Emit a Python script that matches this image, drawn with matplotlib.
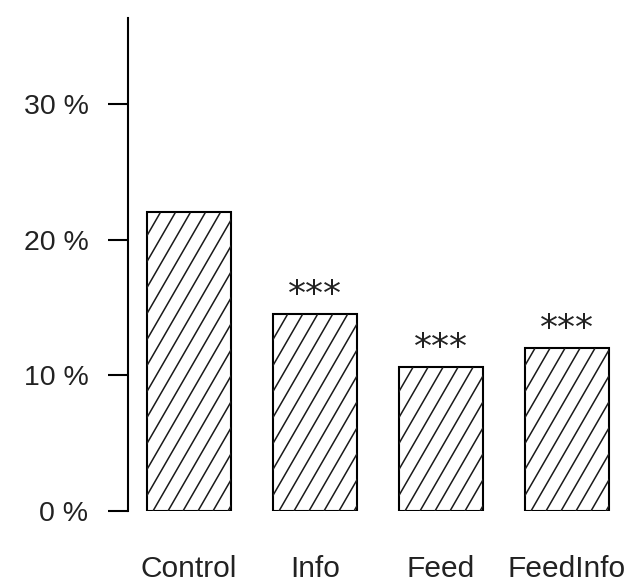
import numpy as np
import matplotlib
matplotlib.use("Agg")
import matplotlib.pyplot as plt
from matplotlib.collections import LineCollection

categories = ["Control", "Info", "Feed", "FeedInfo"]
shares = [22.0, 14.5, 10.6, 12.0]          # percent
significance = ["", "***", "***", "***"]
y_ticks = [0, 10, 20, 30]
y_tick_labels = ["0 %", "10 %", "20 %", "30 %"]

plt.rcParams["font.family"] = ["Liberation Sans", "DejaVu Sans"]
plt.rcParams["text.color"] = "#222222"
plt.rcParams["xtick.labelcolor"] = "#222222"
plt.rcParams["ytick.labelcolor"] = "#222222"

W, H, DPI = 632, 588, 100
fig = plt.figure(figsize=(W / DPI, H / DPI), dpi=DPI)

px_per_pct = 13.57
ytop = 36.3
ax_left, ax_right, ax_bottom = 128, 625, 511
ax = fig.add_axes([ax_left / W, (H - ax_bottom) / H,
                   (ax_right - ax_left) / W, ytop * px_per_pct / H])

step = 126.0
x = np.arange(len(categories))
bar_w = 84 / step
ax.set_xlim(-(189 - ax_left) / step, 3 + (ax_right - 567) / step)
ax.set_ylim(0, ytop)

bars = ax.bar(x, shares, width=bar_w, facecolor="white",
              edgecolor="black", linewidth=1.5, zorder=2)

# diagonal shading lines (about 60 degrees on screen), clipped to each bar
to_px = ax.transData
to_data = ax.transData.inverted()
slope = np.tan(np.radians(60))
spacing = 15.0
for rect in bars:
    x0, y0 = rect.get_x(), rect.get_y()
    x1, y1 = x0 + rect.get_width(), y0 + rect.get_height()
    (px0, py0), (px1, py1) = to_px.transform([(x0, y0), (x1, y1)])
    h = py1 - py0
    segs = []
    c = px0 + 6 - np.ceil(h / slope / spacing) * spacing
    while c < px1:
        a = (c, py0)
        b = (c + h / slope, py1)
        segs.append(to_data.transform([a, b]))
        c += spacing
    lc = LineCollection(segs, colors="#1a1a1a", linewidths=1.1, zorder=3)
    ax.add_collection(lc)
    lc.set_clip_path(rect.get_path(), rect.get_transform())

for xi, v, s in zip(x, shares, significance):
    if s:
        ax.annotate(s, (xi, v), xytext=(0, 14), textcoords="offset points",
                    ha="center", va="center", fontsize=26,
                    family="DejaVu Sans", color="#222222")

for side in ("top", "right", "bottom"):
    ax.spines[side].set_visible(False)
ax.spines["left"].set_linewidth(1.5)

ax.set_yticks(y_ticks)
ax.set_yticklabels(y_tick_labels, fontsize=20.5)
ax.tick_params(axis="y", length=14.5, width=1.5, pad=14)
ax.set_xticks(x)
ax.set_xticklabels(categories, fontsize=21.5)
ax.tick_params(axis="x", length=0, pad=32)

fig.savefig("out.png", dpi=DPI)
